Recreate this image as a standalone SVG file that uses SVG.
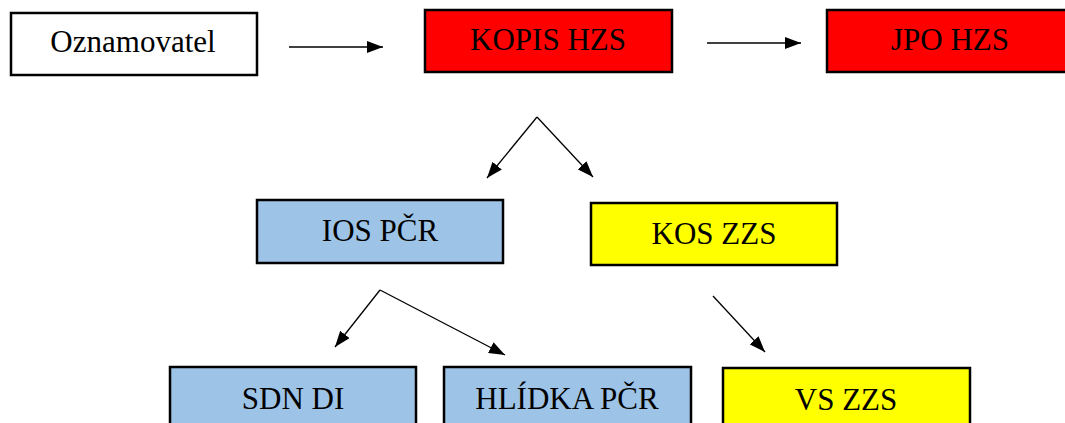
<svg xmlns="http://www.w3.org/2000/svg" width="1065" height="423" viewBox="0 0 1065 423">
<style>
.box{stroke:#000;stroke-width:2.5}
.w{fill:#fff}.r{fill:#ff0000}.b{fill:#9dc3e6}.y{fill:#ffff00}
text{font-family:"Liberation Serif","Times New Roman",serif;font-size:31px;fill:#000;text-anchor:middle}
.c line{stroke:#000;stroke-width:1.3}
</style>
<defs>
<marker id="ah" viewBox="0 0 16 12" refX="16" refY="6" markerWidth="16" markerHeight="12" markerUnits="userSpaceOnUse" orient="auto">
<path d="M0,0 L16,6 L0,12 Z" fill="#000"/>
</marker>
</defs>
<rect width="1065" height="423" fill="#fff"/>
<g class="c" id="connectors">
<line x1="289" y1="47" x2="383" y2="47" marker-end="url(#ah)"/>
<line x1="707" y1="43" x2="801" y2="43" marker-end="url(#ah)"/>
<line x1="537" y1="117" x2="487" y2="178" marker-end="url(#ah)"/>
<line x1="537" y1="117" x2="593" y2="177" marker-end="url(#ah)"/>
<line x1="380" y1="290" x2="335" y2="347" marker-end="url(#ah)"/>
<line x1="380" y1="290" x2="505" y2="355" marker-end="url(#ah)"/>
<line x1="713" y1="296" x2="765" y2="352" marker-end="url(#ah)"/>
</g>
<g id="oznamovatel"><rect class="box w" x="11" y="13" width="246" height="62"/><text x="133" y="52">Oznamovatel</text></g>
<g id="kopis"><rect class="box r" x="425" y="10" width="247" height="62"/><text x="548" y="50">KOPIS HZS</text></g>
<g id="jpo"><rect class="box r" x="827" y="10" width="250" height="62"/><text x="950" y="50">JPO HZS</text></g>
<g id="ios"><rect class="box b" x="257" y="200" width="246" height="63"/><text x="380" y="241">IOS PČR</text></g>
<g id="kos"><rect class="box y" x="591" y="203" width="246" height="62"/><text x="714" y="244">KOS ZZS</text></g>
<g id="sdn"><rect class="box b" x="170" y="367" width="246" height="70"/><text x="293" y="409">SDN DI</text></g>
<g id="hlidka"><rect class="box b" x="444" y="367" width="247" height="70"/><text x="567" y="409">HLÍDKA PČR</text></g>
<g id="vs"><rect class="box y" x="723" y="368" width="247" height="70"/><text x="846" y="410">VS ZZS</text></g>
</svg>
